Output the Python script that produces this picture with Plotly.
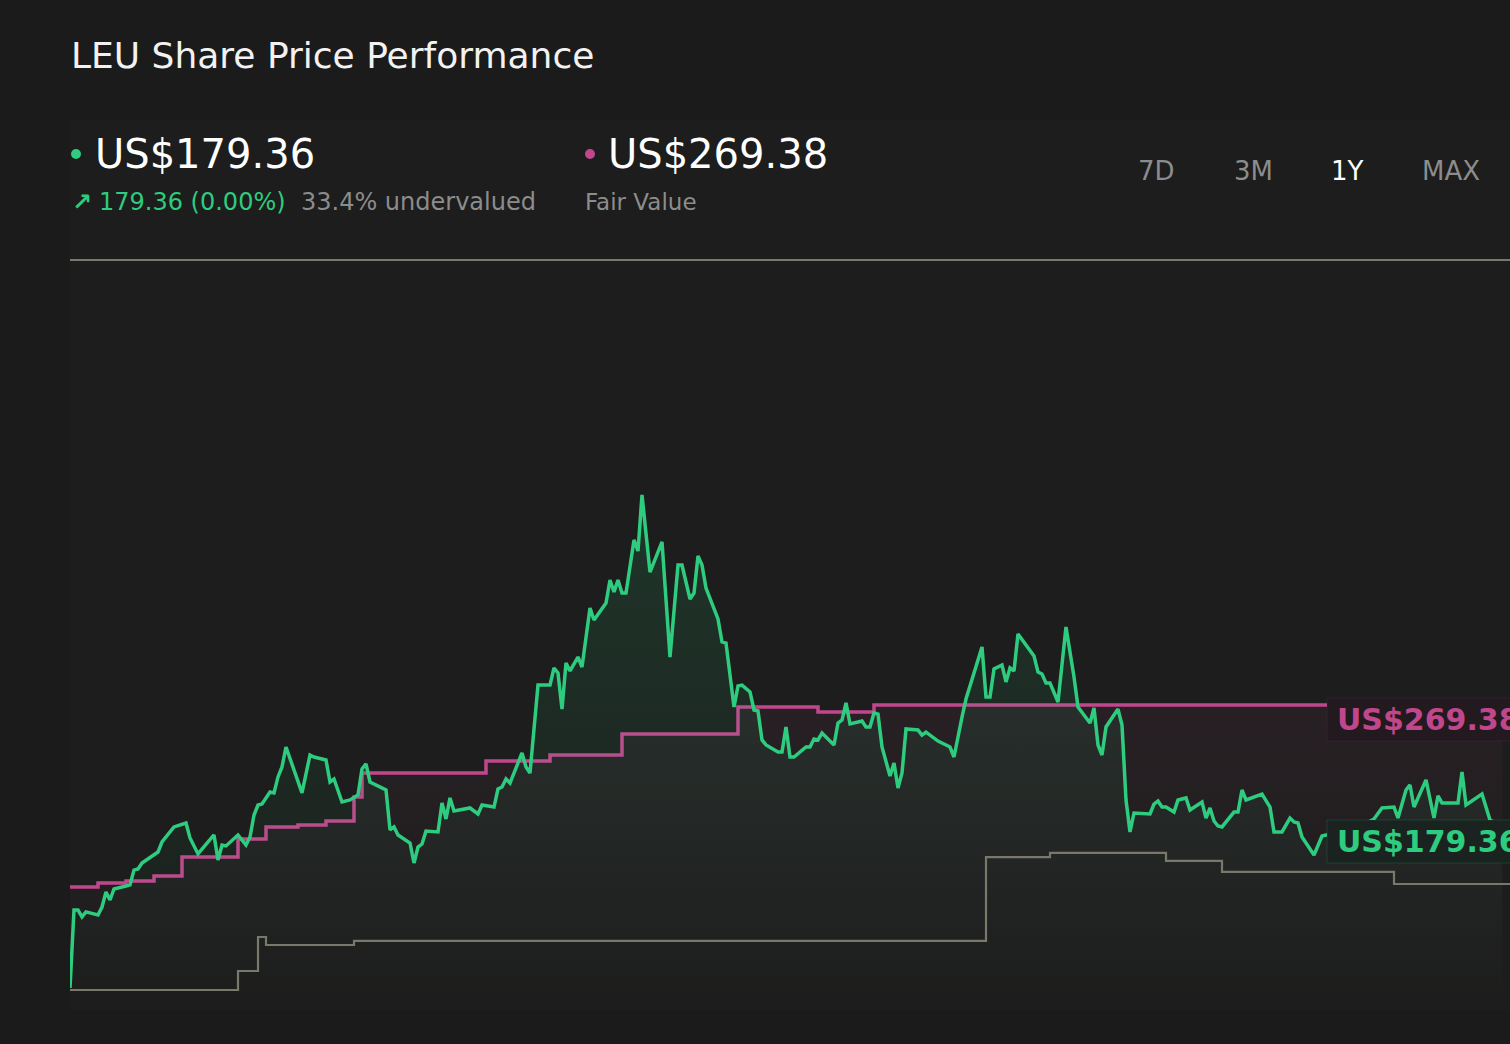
import pandas as pd
import plotly.graph_objects as go

# ---------------- data ----------------
start_date = pd.Timestamp("2024-12-01")
axis_days = 360

price_day = [0, 1, 2, 3, 4, 7, 8, 9, 10, 11, 14, 15, 16, 17, 18, 22, 23, 26, 29, 30,
             32, 36, 37, 38, 39, 42, 44, 45, 46, 47, 48, 50, 51, 52, 53, 54, 58, 60, 61, 64,
             65, 66, 68, 70, 72, 73, 74, 75, 79, 80, 81, 82, 85, 86, 87, 88, 89, 92, 93, 94,
             95, 96, 100, 102, 103, 106, 107, 108, 109, 110, 113, 114, 115, 117, 120, 121, 122, 123, 124, 125,
             127, 128, 130, 131, 134, 135, 136, 137, 138, 139, 141, 142, 143, 145, 148, 150, 152, 153, 155, 156,
             157, 158, 159, 162, 163, 164, 166, 167, 168, 170, 171, 172, 173, 174, 177, 178, 179, 180, 181, 184,
             185, 186, 187, 188, 191, 192, 193, 194, 195, 198, 199, 200, 201, 202, 203, 205, 206, 207, 208, 209,
             212, 213, 214, 216, 217, 220, 221, 223, 224, 228, 229, 230, 231, 233, 234, 235, 236, 237, 241, 242,
             243, 244, 245, 247, 249, 251, 252, 255, 256, 257, 258, 259, 262, 263, 264, 265, 266, 270, 271, 272,
             273, 274, 276, 277, 279, 280, 283, 284, 285, 286, 287, 288, 291, 292, 293, 294, 298, 300, 301, 303,
             305, 306, 307, 308, 311, 313, 314, 319, 322, 326, 328, 331, 332, 334, 335, 336, 339, 341, 342, 343,
             347, 348, 349, 353, 355, 358]
price_value = [60.6, 118.1, 118.1, 113.0, 116.7, 114.4, 120.3, 131.4, 125.5, 133.6, 135.8, 136.6, 147.6, 148.4, 152.8, 160.9, 168.3, 179.4, 182.3, 171.3,
               159.5, 173.5, 155.0, 166.1, 165.4, 173.5, 166.1, 172.0, 188.2, 195.6, 196.3, 205.2, 204.5, 216.3, 223.7, 238.4, 204.5, 232.5, 231.0, 228.8,
               212.6, 214.8, 197.8, 199.3, 203.0, 222.2, 225.9, 212.6, 206.7, 177.2, 179.4, 173.5, 167.6, 152.8, 164.6, 166.8, 176.4, 175.7, 197.1, 185.3,
               200.8, 191.2, 193.4, 189.0, 195.6, 194.1, 207.4, 208.9, 214.8, 211.8, 234.0, 223.7, 219.2, 284.1, 284.1, 296.7, 293.0, 266.4, 300.4, 294.5,
               304.8, 297.4, 341.0, 332.1, 344.7, 361.6, 352.8, 361.6, 352.0, 352.0, 391.2, 383.0, 424.4, 367.5, 389.7, 304.8, 372.7, 372.7, 347.6, 352.0,
               379.3, 372.7, 355.7, 332.9, 315.9, 315.1, 267.9, 283.4, 284.1, 279.0, 265.7, 265.0, 243.6, 239.9, 234.7, 234.7, 253.2, 231.0, 231.0, 238.4,
               238.4, 244.3, 243.6, 248.7, 239.9, 256.1, 258.3, 270.9, 255.4, 257.6, 253.2, 253.2, 263.5, 262.7, 238.4, 217.0, 226.6, 208.1, 219.2, 251.7,
               250.9, 247.2, 249.4, 245.0, 242.8, 238.4, 231.0, 260.5, 273.8, 312.2, 275.3, 275.3, 296.0, 298.9, 286.4, 296.7, 294.5, 321.8, 305.6, 293.7,
               292.3, 285.6, 285.6, 271.6, 327.0, 290.1, 267.9, 256.1, 267.2, 239.9, 232.5, 253.2, 266.4, 254.6, 199.3, 175.7, 189.7, 189.0, 196.3, 198.6,
               194.1, 194.1, 190.4, 199.3, 200.8, 191.9, 197.8, 186.0, 193.4, 183.8, 180.1, 179.4, 190.4, 190.4, 206.7, 199.3, 203.7, 194.1, 175.7, 175.7,
               186.0, 183.1, 182.3, 172.0, 158.7, 172.7, 173.5, 174.9, 178.6, 185.3, 193.4, 194.1, 186.0, 206.7, 210.4, 194.1, 214.1, 186.0, 202.3, 197.1,
               197.1, 220.0, 195.6, 203.7, 184.5, 179.36]

fv_day = [0, 7, 14, 21, 28, 42, 49, 57, 64, 71, 73, 104, 120, 138, 167, 187, 201, 358]
fv_value = [135.1, 138.0, 139.5, 143.2, 157.2, 170.5, 179.4, 180.9, 183.8, 201.5, 219.2, 228.1, 232.5, 248.0,
            267.9, 264.2, 269.38, 269.38]

ref_day = [0, 42, 47, 49, 71, 229, 245, 274, 288, 331, 360]
ref_value = [59.1, 73.1, 98.2, 92.3, 95.3, 157.2, 160.2, 154.3, 146.2, 137.3, 137.3]

last_price_text = "US$179.36"
fair_value_text = "US$269.38"
change_text = "179.36 (0.00%)"
undervalued_text = "33.4% undervalued"
range_labels = ["7D", "3M", "1Y", "MAX"]
active_range = "1Y"

y_range = [44.33, 597.75]

# ---------------- styles ----------------
BG = "#1b1b1b"
GREEN = "#2ecc7f"
PINK = "#c1478d"
KHAKI = "#7a786a"
GREY_TXT = "#8c8c8c"
FONT = "DejaVu Sans"

W, H = 1510, 1044
ML, MR, MT, MB = 70, 0, 260, 34
PW, PH = W - ML - MR, H - MT - MB


def px(x):
    return (x - ML) / PW


def py(y):
    return (H - MB - y) / PH


def to_dates(days):
    return [start_date + pd.Timedelta(days=d) for d in days]


fig = go.Figure()

fig.add_trace(go.Scatter(
    x=to_dates(fv_day), y=fv_value, mode="lines",
    line=dict(color=PINK, width=3.5, shape="hv"),
    fill="tozeroy",
    fillgradient=dict(type="vertical",
                      colorscale=[[0, "rgba(193,71,141,0)"], [1, "rgba(193,71,141,0.07)"]],
                      start=y_range[0], stop=max(fv_value)),
    hoverinfo="skip", showlegend=False,
))

fig.add_trace(go.Scatter(
    x=to_dates(price_day), y=price_value, mode="lines",
    line=dict(color=GREEN, width=3.5),
    fill="tozeroy",
    fillgradient=dict(type="vertical",
                      colorscale=[[0, "rgba(46,204,127,0)"], [1, "rgba(46,204,127,0.14)"]],
                      start=y_range[0], stop=max(price_value)),
    hoverinfo="skip", showlegend=False,
))

fig.add_trace(go.Scatter(
    x=to_dates(ref_day), y=ref_value, mode="lines",
    line=dict(color=KHAKI, width=2.2, shape="hv"),
    hoverinfo="skip", showlegend=False,
))

shapes = [
    dict(type="rect", xref="paper", yref="paper", x0=0, x1=1, y0=py(1010), y1=py(120),
         fillcolor="#1c1d1c", line=dict(width=0), layer="below"),
    dict(type="line", xref="paper", yref="paper", x0=0, x1=1, y0=1, y1=1,
         line=dict(color=KHAKI, width=2)),
    # dots
    dict(type="circle", xref="paper", yref="paper", x0=px(71), x1=px(81), y0=py(159), y1=py(149),
         fillcolor=GREEN, line=dict(width=0)),
    dict(type="circle", xref="paper", yref="paper", x0=px(585), x1=px(595), y0=py(159), y1=py(149),
         fillcolor=PINK, line=dict(width=0)),
    # label boxes
    dict(type="rect", xref="paper", yref="y", ysizemode="pixel", yanchor=fv_value[-1],
         x0=px(1327), x1=px(1530), y0=-36, y1=7,
         fillcolor="#221a1f", line=dict(color="rgba(193,71,141,0.12)", width=1)),
    dict(type="rect", xref="paper", yref="y", ysizemode="pixel", yanchor=price_value[-1],
         x0=px(1327), x1=px(1530), y0=-36, y1=7,
         fillcolor="#1a231f", line=dict(color="rgba(46,204,127,0.18)", width=1)),
]

annotations = [
    dict(text="LEU Share Price Performance", x=px(69), y=py(56), xanchor="left", yanchor="middle",
         font=dict(family=FONT, size=36, color="#f2f2f2")),
    dict(text=last_price_text, x=px(93), y=py(154), xanchor="left", yanchor="middle",
         font=dict(family=FONT, size=40, color="#ffffff")),
    dict(text=fair_value_text, x=px(606), y=py(154), xanchor="left", yanchor="middle",
         font=dict(family=FONT, size=40, color="#ffffff")),
    dict(text="<b>↗</b>", x=px(70), y=py(202), xanchor="left", yanchor="middle",
         font=dict(family=FONT, size=24, color=GREEN)),
    dict(text=change_text, x=px(97), y=py(202), xanchor="left", yanchor="middle",
         font=dict(family=FONT, size=24, color=GREEN)),
    dict(text=undervalued_text, x=px(299), y=py(202), xanchor="left", yanchor="middle",
         font=dict(family=FONT, size=24, color=GREY_TXT)),
    dict(text="Fair Value", x=px(583), y=py(202), xanchor="left", yanchor="middle",
         font=dict(family=FONT, size=23, color=GREY_TXT)),
    dict(text="<b>" + fair_value_text + "</b>", x=px(1335), xanchor="left", y=fv_value[-1], yref="y",
         yanchor="middle", yshift=-14, font=dict(family=FONT, size=30, color=PINK)),
    dict(text="<b>" + last_price_text + "</b>", x=px(1335), xanchor="left", y=price_value[-1], yref="y",
         yanchor="middle", yshift=-14, font=dict(family=FONT, size=30, color=GREEN)),
]

range_centers = [1156, 1253, 1347, 1451]
for lab, cx in zip(range_labels, range_centers):
    annotations.append(dict(
        text=lab, x=px(cx), y=py(171), xanchor="center", yanchor="middle",
        font=dict(family=FONT, size=26, color="#ffffff" if lab == active_range else GREY_TXT)))

for a in annotations:
    a.setdefault("xref", "paper")
    a.setdefault("yref", "paper")
    a["showarrow"] = False

fig.update_layout(
    width=W, height=H,
    margin=dict(l=ML, r=MR, t=MT, b=MB),
    paper_bgcolor=BG, plot_bgcolor="rgba(0,0,0,0)",
    xaxis=dict(range=[start_date, start_date + pd.Timedelta(days=axis_days)],
               visible=False, showgrid=False, zeroline=False),
    yaxis=dict(range=y_range, visible=False, showgrid=False, zeroline=False),
    shapes=shapes, annotations=annotations,
    showlegend=False,
    font=dict(family=FONT),
)

fig.write_html("out.html", config={"displayModeBar": False})
